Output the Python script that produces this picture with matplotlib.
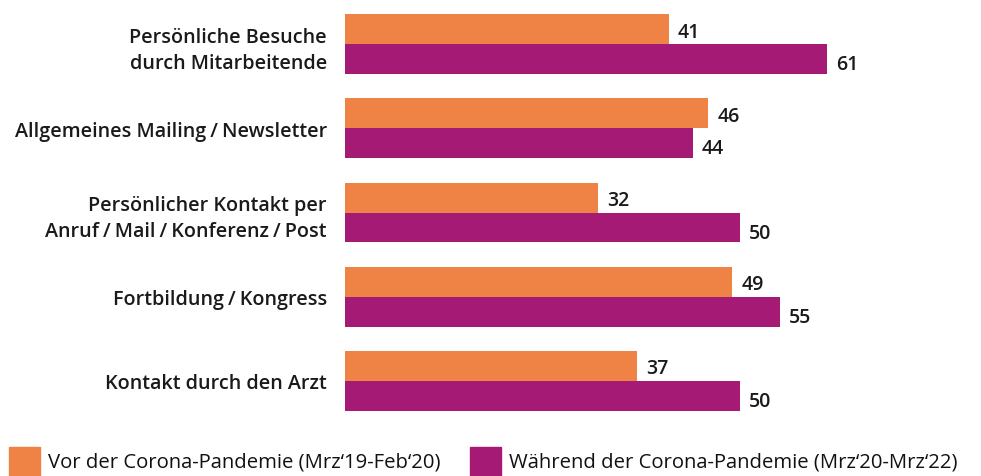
import numpy as np
import matplotlib
matplotlib.use('Agg')
import matplotlib.pyplot as plt
import matplotlib.patches as mpatches

ORANGE = '#EE8345'
PURPLE = '#A51A74'

categories = [
    'Persönliche Besuche\ndurch Mitarbeitende',
    'Allgemeines Mailing\u2009/\u2009Newsletter',
    'Persönlicher Kontakt per\nAnruf\u2009/\u2009Mail\u2009/\u2009Konferenz\u2009/\u2009Post',
    'Fortbildung\u2009/\u2009Kongress',
    'Kontakt durch den Arzt',
]
vor = [41, 46, 32, 49, 37]
waehrend = [61, 44, 50, 55, 50]
legend_labels = ['Vor der Corona-Pandemie (Mrz‘19-Feb‘20)',
                 'Während der Corona-Pandemie (Mrz‘20-Mrz‘22)']

plt.rcParams['font.family'] = ['Open Sans', 'DejaVu Sans']

fig = plt.figure(figsize=(9.81, 4.77), dpi=100)
ax = fig.add_axes([345 / 981, 1 - 424 / 477, 632 / 981, 421 / 477])

y = np.arange(len(categories))
h = 0.356
ax.barh(y - h / 2, vor, height=h, color=ORANGE)
ax.barh(y + h / 2, waehrend, height=h, color=PURPLE)

for yi, v in zip(y, vor):
    ax.text(v + 1.15, yi - h / 2 + 0.03, str(v), va='center', ha='left',
            fontsize=14, fontweight='semibold', color='#1a1a1a')
for yi, v in zip(y, waehrend):
    ax.text(v + 1.15, yi + h / 2 + 0.06, str(v), va='center', ha='left',
            fontsize=14, fontweight='semibold', color='#1a1a1a')

ax.set_xlim(0, 80)
ax.set_ylim(4.5, -0.5)
ax.set_yticks(y)
ax.set_yticklabels(categories, fontsize=14.2, fontweight='semibold',
                   color='#1a1a1a', linespacing=1.4)
ax.tick_params(axis='y', length=0, pad=13)
ax.set_xticks([])
for s in ax.spines.values():
    s.set_visible(False)

# legend drawn manually
fig.patches.append(mpatches.Rectangle((9 / 981, 0), 31 / 981, 29 / 477,
                                      transform=fig.transFigure, color=ORANGE))
fig.text(48 / 981, 14 / 477, legend_labels[0], fontsize=14.6,
         va='center', ha='left', color='#111111')
fig.patches.append(mpatches.Rectangle((470 / 981, 0), 31 / 981, 29 / 477,
                                      transform=fig.transFigure, color=PURPLE))
fig.text(509 / 981, 14 / 477, legend_labels[1], fontsize=14.6,
         va='center', ha='left', color='#111111')

fig.savefig('out.png', dpi=100, facecolor='white')
